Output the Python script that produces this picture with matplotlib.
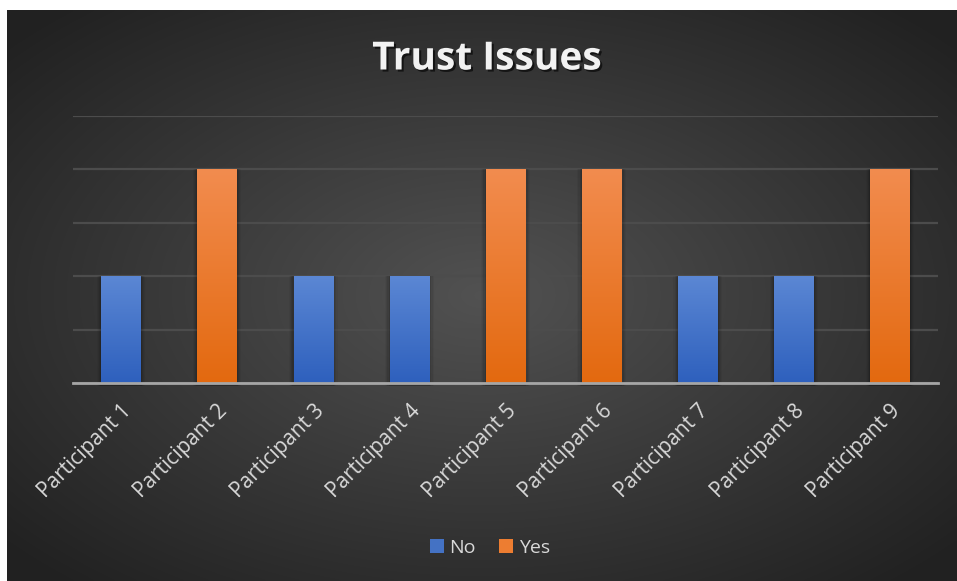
import numpy as np
import matplotlib.pyplot as plt
from matplotlib.patches import Rectangle
import matplotlib.patheffects as pe

participants = [f"Participant {i}" for i in range(1, 10)]
no_values = [1, 0, 1, 1, 0, 0, 1, 1, 0]
yes_values = [0, 2, 0, 0, 2, 2, 0, 0, 2]
series_names = ["No", "Yes"]

W, H, DPI = 957, 581, 100
fig = plt.figure(figsize=(W / DPI, H / DPI), dpi=DPI, facecolor="white")


def fx(px):
    return px / W


def fy(py):
    return 1 - py / H


# dark panel with a soft radial glow in the middle
bg = fig.add_axes([fx(7), 0, fx(W - 7), fy(10)])
bg.set_axis_off()
gx, gy = np.meshgrid(np.linspace(-1, 1, 400), np.linspace(-1, 1, 250))
r = np.sqrt(gx ** 2 + gy ** 2) / np.sqrt(2)
shade = np.clip(0.32 - 0.2 * r, 0.13, 1.0)
bg.imshow(np.dstack([shade] * 3), aspect="auto", extent=[0, 1, 0, 1],
          interpolation="bicubic")
bg.set_xlim(0, 1)
bg.set_ylim(0, 1)

ax = fig.add_axes([fx(73), fy(383), fx(938 - 73), (383 - 116) / H])
ax.patch.set_alpha(0)
x = np.arange(len(participants))
ax.set_xlim(-0.5, len(participants) - 0.5)
ax.set_ylim(0, 2.5)
ax.set_yticks(np.arange(0, 2.51, 0.5))
ax.yaxis.grid(True, color="#4c4c4c", linewidth=1.6)
ax.set_axisbelow(True)
for s in ["top", "right", "left"]:
    ax.spines[s].set_visible(False)
ax.spines["bottom"].set_color("#a6a6a6")
ax.spines["bottom"].set_linewidth(2)
ax.spines["bottom"].set_zorder(5)
ax.tick_params(axis="y", left=False, labelleft=False)
ax.tick_params(axis="x", bottom=False, pad=9)
ax.set_xticks(x)
ax.set_xticklabels(participants, rotation=45, ha="right", va="top",
                   rotation_mode="anchor", color="#d9d9d9",
                   fontsize=15, family="Open Sans")

width = 0.41
styles = {
    "No": ("#4472c4", "#5b87d4", "#2e60bd"),
    "Yes": ("#ed7d31", "#f28c4f", "#e3690f"),
}
grad = np.linspace(0, 1, 256).reshape(-1, 1)
for name, vals in zip(series_names, [no_values, yes_values]):
    base, top_c, bot_c = styles[name]
    bars = ax.bar(x, vals, width, color=base, label=name, zorder=3,
                  linewidth=0)
    c1 = np.array(plt.matplotlib.colors.to_rgb(top_c))
    c2 = np.array(plt.matplotlib.colors.to_rgb(bot_c))
    cols = (c2[None, :] * (1 - grad) + c1[None, :] * grad).reshape(256, 1, 3)
    for b in bars:
        h = b.get_height()
        if h <= 0:
            continue
        x0 = b.get_x()
        # soft shadow behind the bar
        for k, a in enumerate([0.10, 0.08, 0.06, 0.04]):
            d = 0.012 * (k + 1)
            ax.add_patch(Rectangle((x0 - d, -0.03), width + 2 * d, h + 0.03,
                                   color="black", alpha=a, zorder=2,
                                   linewidth=0, clip_on=False))
        im = ax.imshow(cols, extent=[x0, x0 + width, 0, h], origin="lower",
                       aspect="auto", zorder=4, interpolation="bilinear")
        im.set_clip_path(b)

ax.set_xlim(-0.5, len(participants) - 0.5)
ax.set_ylim(0, 2.5)

fig.text(fx(487), fy(59), "Trust Issues", ha="center", va="center",
         fontsize=28, fontweight="bold", family="Open Sans", color="#f2f2f2",
         path_effects=[pe.withSimplePatchShadow(offset=(1.5, -1.5),
                                                shadow_rgbFace="black",
                                                alpha=0.6)])

leg = fig.legend(loc="center", bbox_to_anchor=(fx(490), fy(548)), ncol=2,
                 frameon=False, handlelength=0.7, handleheight=0.7,
                 handletextpad=0.3, columnspacing=1.2,
                 prop={"family": "Open Sans", "size": 14})
for t in leg.get_texts():
    t.set_color("#d9d9d9")

fig.savefig("out.png", dpi=DPI, facecolor="white")
